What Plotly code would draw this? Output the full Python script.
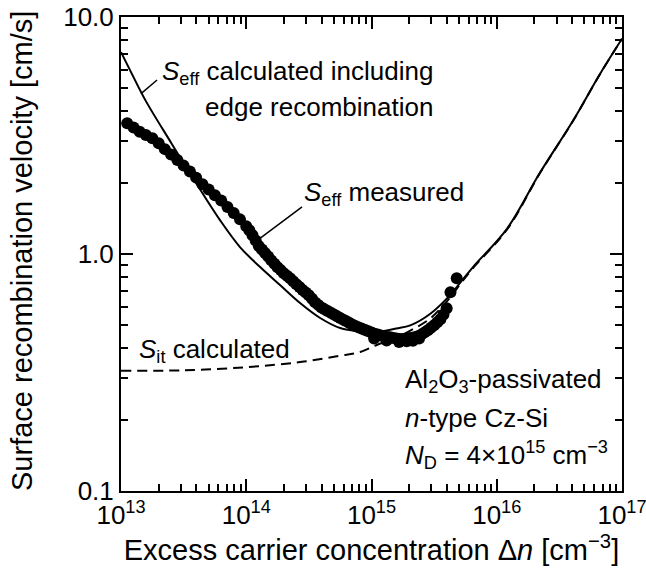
import numpy as np
import plotly.graph_objects as go

# Measured effective surface recombination velocity (filled circles)
dn_meas = [1.12e13, 1.26e13, 1.41e13, 1.58e13, 1.78e13, 2.00e13, 2.24e13, 2.51e13, 2.82e13,
           3.16e13, 3.55e13, 3.98e13, 4.47e13, 5.01e13, 5.62e13, 6.31e13, 7.08e13, 7.94e13,
           8.91e13,
           1.000e14, 1.059e14, 1.122e14, 1.189e14, 1.259e14, 1.334e14, 1.413e14, 1.496e14,
           1.585e14, 1.679e14, 1.778e14, 1.884e14, 1.995e14, 2.113e14, 2.239e14, 2.371e14,
           2.512e14, 2.661e14, 2.818e14, 2.985e14, 3.162e14, 3.350e14, 3.548e14, 3.758e14,
           3.981e14, 4.217e14, 4.467e14, 4.732e14, 5.012e14, 5.309e14, 5.623e14, 5.957e14,
           6.310e14, 6.683e14, 7.079e14, 7.499e14, 7.943e14, 8.414e14, 8.913e14, 9.441e14,
           1.000e15, 1.059e15, 1.122e15, 1.189e15, 1.259e15, 1.334e15, 1.413e15, 1.496e15,
           1.585e15, 1.679e15, 1.778e15, 1.884e15, 1.995e15, 2.113e15, 2.239e15, 2.371e15,
           2.512e15, 2.661e15, 2.818e15, 2.985e15, 3.162e15, 3.350e15, 3.548e15, 3.758e15,
           3.981e15, 4.27e15, 4.79e15,
           1.05e15, 1.32e15, 1.66e15, 1.91e15, 2.14e15, 2.40e15]
s_meas = [3.56, 3.42, 3.28, 3.18, 3.08, 2.93, 2.77, 2.63, 2.49,
          2.36, 2.23, 2.10, 1.97, 1.87, 1.77, 1.68, 1.58, 1.49,
          1.40,
          1.31, 1.26, 1.20, 1.14, 1.08, 1.045, 1.01, 0.975,
          0.94, 0.91, 0.88, 0.855, 0.83, 0.81, 0.79, 0.768,
          0.745, 0.725, 0.705, 0.688, 0.67, 0.647, 0.625, 0.61,
          0.595, 0.585, 0.575, 0.565, 0.555, 0.546, 0.537, 0.528,
          0.52, 0.511, 0.503, 0.496, 0.49, 0.484, 0.478, 0.472,
          0.466, 0.461, 0.457, 0.453, 0.45, 0.447, 0.445, 0.442,
          0.44, 0.438, 0.438, 0.439, 0.441, 0.443, 0.446, 0.451,
          0.458, 0.467, 0.477, 0.488, 0.50, 0.515, 0.53, 0.555,
          0.59, 0.69, 0.79,
          0.44, 0.432, 0.425, 0.428, 0.43, 0.44]

# Calculated S_eff including edge recombination (solid line)
dn_calc = [1.00e13, 1.18e13, 1.56e13, 2.51e13, 3.98e13, 6.17e13, 8.91e13, 1.29e14, 1.86e14,
           2.69e14, 3.89e14, 5.62e14, 7.94e14, 1.12e15, 1.58e15, 2.04e15, 2.95e15, 4.24e15,
           5.09e15, 6.46e15, 1.21e16, 2.21e16, 4.06e16, 6.67e16, 1.00e17]
s_calc = [7.11, 5.97, 4.47, 2.95, 1.99, 1.39, 1.07, 0.881, 0.740,
          0.621, 0.537, 0.487, 0.472, 0.470, 0.485, 0.50, 0.56, 0.671,
          0.755, 0.881, 1.28, 2.20, 3.65, 5.75, 8.1]

# Calculated S_it (dashed line)
dn_sit = [1.00e13, 3.16e13, 1.00e14, 2.69e14, 5.62e14, 8.13e14, 1.10e15, 1.58e15, 2.04e15,
          2.95e15, 4.24e15, 5.09e15, 6.46e15, 1.21e16, 2.21e16, 4.06e16, 6.67e16, 1.00e17]
s_sit = [0.322, 0.323, 0.333, 0.350, 0.372, 0.386, 0.413, 0.445, 0.475,
         0.535, 0.655, 0.745, 0.872, 1.27, 2.19, 3.64, 5.74, 8.09]

# Leader lines from labels to curves
lead_calc_x = [1.94e13, 1.445e13]
lead_calc_y = [5.42, 4.75]
lead_meas_x = [2.79e14, 1.24e14]
lead_meas_y = [1.58, 1.146]

x_ticks = [1e13, 1e14, 1e15, 1e16, 1e17]
x_ticktext = ["10<sup>13</sup>", "10<sup>14</sup>", "10<sup>15</sup>", "10<sup>16</sup>", "10<sup>17</sup>"]
y_ticks = [0.1, 1.0, 10.0]
y_ticktext = ["0.1", "1.0", "10.0"]

FONT = "Liberation Sans, Arial, sans-serif"

fig = go.Figure()
fig.add_trace(go.Scatter(x=dn_meas, y=s_meas, mode="markers",
                         marker=dict(color="black", size=12, line=dict(width=0))))
fig.add_trace(go.Scatter(x=dn_sit, y=s_sit, mode="lines", line_shape="spline",
                         line=dict(color="black", width=2, dash="10px,6px")))
fig.add_trace(go.Scatter(x=dn_calc, y=s_calc, mode="lines", line_shape="spline",
                         line=dict(color="black", width=2)))
for lx, ly in ((lead_calc_x, lead_calc_y), (lead_meas_x, lead_meas_y)):
    fig.add_trace(go.Scatter(x=lx, y=ly, mode="lines", line=dict(color="black", width=1.5)))

axis_common = dict(
    showline=True, linewidth=2, linecolor="black", mirror="ticks",
    ticks="inside", ticklen=12, tickwidth=2, tickcolor="black",
    showgrid=False, zeroline=False, ticklabeloverflow="allow",
    tickfont=dict(family=FONT, size=26, color="black"),
    minor=dict(ticks="inside", ticklen=7, tickwidth=2, tickcolor="black",
               dtick="D1", showgrid=False),
)

fig.update_xaxes(type="log", range=[12.99999, 17.00001], tickvals=x_ticks, ticktext=x_ticktext,
                 title=dict(text="Excess carrier concentration Δ<i>n</i> [cm<sup>−3</sup>]",
                            font=dict(family=FONT, size=29, color="black"), standoff=6),
                 **axis_common)
fig.update_yaxes(type="log", range=[-1.00001, 1.00001], tickvals=y_ticks, ticktext=y_ticktext,
                 **axis_common)

L, R, T, B = 121, 24, 17, 84
W, H = 646, 575
pw, ph = W - L - R, H - T - B

# y-axis title placed as rotated text
fig.add_annotation(text="Surface recombination velocity [cm/s]", xref="paper", yref="paper",
                   x=(22 - L) / pw, y=(H - B - 251) / ph, textangle=-90,
                   xanchor="center", yanchor="middle", showarrow=False,
                   font=dict(family=FONT, size=29, color="black"))

labels = [
    ("<i>S</i><sub>eff</sub> calculated including", 160, 72),
    ("edge recombination", 203, 107),
    ("<i>S</i><sub>eff</sub> measured", 302, 193),
    ("<i>S</i><sub>it</sub> calculated", 137, 350),
    ("Al<sub>2</sub>O<sub>3</sub>-passivated", 403, 380),
    ("<i>n</i>-type Cz-Si", 403, 418),
    ("<i>N</i><sub>D</sub> = 4×10<sup>15</sup> cm<sup>−3</sup>", 403, 455),
]
for text, px, py in labels:
    fig.add_annotation(text=text, xref="paper", yref="paper",
                       x=(px - L) / pw, y=(H - B - py) / ph,
                       xanchor="left", yanchor="middle", showarrow=False,
                       font=dict(family=FONT, size=26, color="black"))

fig.update_layout(
    width=W, height=H, margin=dict(l=L, r=R, t=T, b=B, autoexpand=False),
    paper_bgcolor="white", plot_bgcolor="white", showlegend=False,
    font=dict(family=FONT, color="black"),
)

fig.write_html("out.html")
